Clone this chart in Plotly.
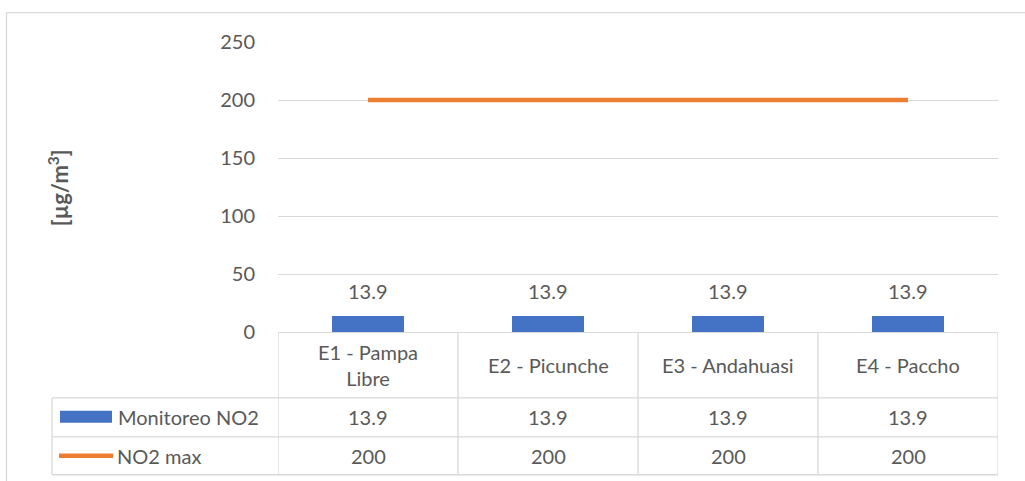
import plotly.graph_objects as go

# ---- data ----
categories = ["E1 - Pampa Libre", "E2 - Picunche", "E3 - Andahuasi", "E4 - Paccho"]
category_labels = ["E1 - Pampa<br>Libre", "E2 - Picunche", "E3 - Andahuasi", "E4 - Paccho"]
monitoreo_no2 = [13.9, 13.9, 13.9, 13.9]
no2_max = [200, 200, 200, 200]
series_names = ["Monitoreo NO2", "NO2 max"]
y_ticks = [0, 50, 100, 150, 200, 250]

BLUE = "#4472C4"
ORANGE = "#ED7D31"
GRID = "#D9D9D9"
TXT = "#595959"
FONT = "Lato"
FS = 20

W, H = 1025, 481
L, T, R, B = 278, 41.5, 998, 332
PW, PH = R - L, B - T


def px(x):
    return (x - L) / PW


def py(y):
    return (B - y) / PH


fig = go.Figure()
fig.add_trace(go.Bar(x=categories, y=monitoreo_no2, name=series_names[0],
                     marker=dict(color=BLUE, line=dict(width=0)), width=0.4))
fig.add_trace(go.Scatter(x=categories, y=no2_max, name=series_names[1], mode="lines",
                         line=dict(color=ORANGE, width=4.5)))

ann = []
shapes = []
tf = dict(size=FS, color=TXT, family=FONT)

# data labels above bars
for c, v in zip(categories, monitoreo_no2):
    ann.append(dict(x=c, y=v, xref="x", yref="y", text=f"{v}", showarrow=False,
                    yanchor="bottom", yshift=11, font=tf))

# table rows
row_cat = (332 + 398) / 2
row1 = (398 + 437) / 2
row2 = (437 + 475) / 2
for c, lab, v1, v2 in zip(categories, category_labels, monitoreo_no2, no2_max):
    ann.append(dict(x=c, y=py(row_cat), xref="x", yref="paper", text=lab, showarrow=False,
                    yanchor="middle", font=tf))
    ann.append(dict(x=c, y=py(row1), xref="x", yref="paper", text=f"{v1}", showarrow=False,
                    yanchor="middle", font=tf))
    ann.append(dict(x=c, y=py(row2), xref="x", yref="paper", text=f"{v2}", showarrow=False,
                    yanchor="middle", font=tf))

# legend column text
ann.append(dict(x=px(116), y=py(row1), xref="paper", yref="paper", text=series_names[0],
                showarrow=False, xanchor="left", yanchor="middle", font=tf))
ann.append(dict(x=px(115), y=py(row2), xref="paper", yref="paper", text=series_names[1],
                showarrow=False, xanchor="left", yanchor="middle", font=tf))

# y-axis title
ann.append(dict(x=px(58), y=py(187), xref="paper", yref="paper",
                text="<b>[µg/m<sup>3</sup>]</b>",
                showarrow=False, textangle=-90, xanchor="center", yanchor="middle",
                font=dict(size=22, color=TXT, family=FONT)))

# legend keys
shapes.append(dict(type="rect", xref="paper", yref="paper", x0=px(60), x1=px(112),
                   y0=py(423), y1=py(411), fillcolor=BLUE, line=dict(width=0)))
shapes.append(dict(type="line", xref="paper", yref="paper", x0=px(59), x1=px(113),
                   y0=py(row2), y1=py(row2), line=dict(color=ORANGE, width=4.5)))

# table grid
lc = dict(color=GRID, width=1.3)
for yy in (398, 437, 475):
    shapes.append(dict(type="line", xref="paper", yref="paper", x0=px(52), x1=1,
                       y0=py(yy), y1=py(yy), line=lc))
shapes.append(dict(type="line", xref="paper", yref="paper", x0=px(52), x1=px(52),
                   y0=py(398), y1=py(475), line=lc))
for xx in [-0.5] + [i + 0.5 for i in range(len(categories))]:
    shapes.append(dict(type="line", xref="x", yref="paper", x0=xx, x1=xx,
                       y0=0, y1=py(475), line=lc))

# outer chart border
shapes.append(dict(type="rect", xref="paper", yref="paper", x0=px(6.5), x1=px(1040),
                   y0=py(500), y1=py(12), line=dict(color=GRID, width=1.3),
                   fillcolor="rgba(0,0,0,0)"))

fig.update_layout(
    width=W, height=H,
    margin=dict(l=L, r=W - R, t=T, b=H - B, pad=0),
    paper_bgcolor="white", plot_bgcolor="white",
    showlegend=False,
    bargap=0.6,
    font=dict(family=FONT, size=FS, color=TXT),
    xaxis=dict(range=[-0.5, 3.5], showticklabels=False, showgrid=False,
               showline=True, linecolor=GRID, linewidth=1.3, ticks="", zeroline=False,
               fixedrange=True),
    yaxis=dict(range=[0, 250], tickvals=y_ticks, showgrid=True, gridcolor=GRID,
               gridwidth=1.3, zeroline=False, showline=False, ticks="",
               ticklabelstandoff=22, tickfont=tf, fixedrange=True),
    annotations=ann,
    shapes=shapes,
)

fig.write_html(
    "out.html",
    config={"displayModeBar": False},
    post_script="document.body.style.margin='0';document.body.style.overflow='hidden';",
)
